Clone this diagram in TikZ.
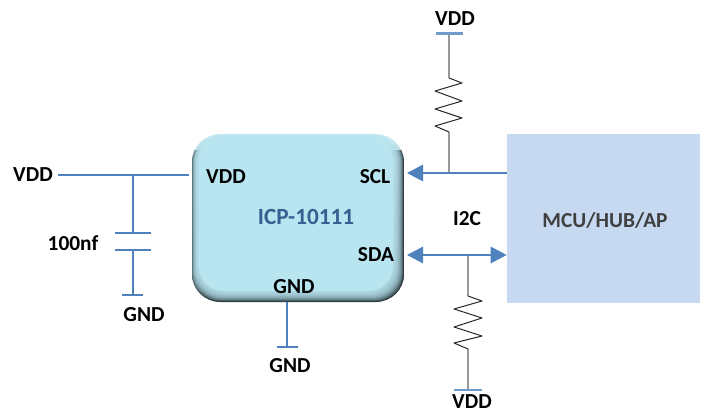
\documentclass[tikz,border=0pt]{standalone}
\usepackage{fontspec}
\setmainfont{Carlito}
\usetikzlibrary{arrows.meta,fadings}
\definecolor{wire}{HTML}{4F81BD}
\definecolor{wirelight}{HTML}{6F9BCB}
\definecolor{chipface}{HTML}{B9E5F0}
\definecolor{chipedge}{HTML}{26343A}
\definecolor{mcufill}{HTML}{C6D9F0}
\definecolor{chiptext}{HTML}{366092}
\definecolor{mcutext}{HTML}{404040}

\begin{document}
\begin{tikzpicture}[
        x=0.025cm, y=-0.025cm,
        wireline/.style={draw=wire,line width=1.5pt},
        railbar/.style={draw=wirelight,line width=1.5pt},
        pull/.style={draw=black!40,line width=1.1pt},
        zig/.style={draw=black!85,line width=0.7pt,line join=round},
        bus/.style={draw=wire,line width=1.5pt},
        bigtip/.tip={Triangle[length=11.4pt,width=11.6pt,fill=wire]},
        pin/.style={font=\fontsize{15.2}{17}\selectfont\bfseries,text=black,inner sep=0pt},
      ]

      \useasboundingbox (0,0) rectangle (704,413);

      % bevelled package
      \begin{scope}
        \clip[rounded corners=20pt] (192,134) rectangle (404,302);
        \shade[top color=chipface!60!white, bottom color=chipedge] (192,134) rectangle (404,302);
        \fill[chipedge, path fading=west] (384,150) rectangle (404,302);
        \fill[chipedge!70!chipface, path fading=east] (192,150) rectangle (204,302);
      \end{scope}
      \foreach \i in {1,...,16}
        \fill[chipface, opacity=.17, rounded corners=20pt]
          (192+0.4*\i,134+0.15*\i) rectangle (404-0.7*\i,302-0.7*\i);
      \fill[chipface, rounded corners=18pt] (199,137) rectangle (393,291);

      \node (chip) at (298,218) [minimum width=212*0.7113pt, minimum height=168*0.7113pt, inner sep=0pt] {};
      \node (mcu) at (603.5,218.5) [fill=mcufill, minimum width=193*0.7113pt, minimum height=169*0.7113pt, inner sep=0pt] {};

      \node[pin,font=\fontsize{16.5}{18}\selectfont\bfseries] (chipname) at (306,217) {\textcolor{chiptext}{ICP-10111}};
      \node[pin] (mcuname) at (605,220) {\textcolor{mcutext}{MCU/HUB/AP}};
      \node[pin] (pinvdd) at (226,177) {VDD};
      \node[pin] (pinscl) at (375,177) {SCL};
      \node[pin] (pinsda) at (376,255) {SDA};
      \node[pin] (pingnd) at (294,287) {GND};
      \node[pin] (busname) at (467,219) {I2C};
      \node[pin] (vddin) at (33,175) {VDD};
      \node[pin] (capval) at (73,243) {100nf};
      \node[pin] (capgnd) at (144,315) {GND};
      \node[pin] (chipgnd) at (290,366) {GND};
      \node[pin] (topvdd) at (455,19) {VDD};
      \node[pin] (botvdd) at (472,402) {VDD};

      % supply and capacitor
      \coordinate (vddstart) at (58,175);
      \coordinate (vddend) at (189,175);
      \coordinate (captap) at (133,175);
      \coordinate (capa) at (133,233);
      \coordinate (capb) at (133,250);
      \coordinate (capfoot) at (133,295);
      \draw[wireline] (vddstart) -- (vddend);
      \draw[wireline] (captap) -- (capa);
      \draw[wireline] (capb) -- (capfoot);
      \draw[wireline] (115,233) -- (151,233);
      \draw[wireline] (115,250) -- (151,250);
      \draw[wireline] (122,295) -- (143,295);

      % chip ground
      \coordinate (gndtop) at (287,302);
      \coordinate (gndfoot) at (287,347);
      \draw[wireline] (gndtop) -- (gndfoot);
      \draw[wireline] (277,347) -- (298,347);

      % pull-ups
      \coordinate (scltap) at (449,173);
      \coordinate (sdatap) at (468,255);
      \coordinate (topbar) at (449,33.5);
      \coordinate (topres) at (449,78);
      \coordinate (topresend) at (449,132);
      \draw[pull] (topbar) -- (topres);
      \draw[pull] (topresend) -- (scltap);
      \draw[zig] (topres) -- (462,83) -- (435,91) -- (462,101) -- (435,109) -- (462,118) -- (435,126) -- (topresend);
      \draw[railbar] (436,33.5) -- (463,33.5);

      \coordinate (botres) at (468,296);
      \coordinate (botresend) at (468,349);
      \coordinate (botbar) at (468,390);
      \draw[pull] (sdatap) -- (botres);
      \draw[pull] (botresend) -- (botbar);
      \draw[zig] (botres) -- (482,301) -- (454,309) -- (482,318) -- (454,327) -- (482,336) -- (454,343) -- (botresend);
      \draw[railbar] (454,390) -- (482,390);

      % I2C bus
      \coordinate (scltip) at (407,173);
      \coordinate (sdatip) at (407,255);
      \draw[bus,-{bigtip}] (mcu.west |- scltip) -- (scltip);
      \draw[bus,{bigtip}-{bigtip}] (sdatip) -- (mcu.west |- sdatip);

    \end{tikzpicture}
\end{document}
